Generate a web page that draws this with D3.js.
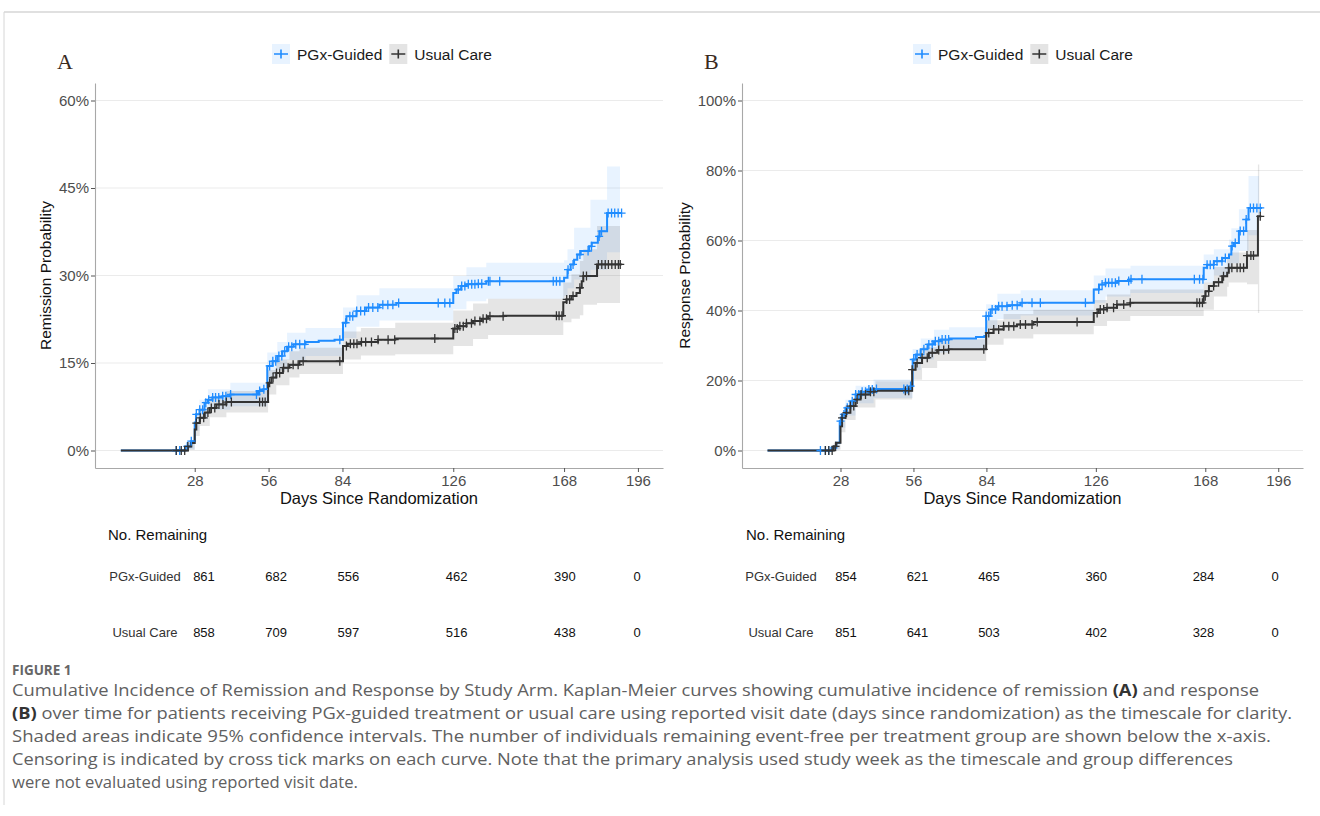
<!DOCTYPE html>
<html>
<head>
<meta charset="utf-8">
<script src="https://cdn.jsdelivr.net/npm/d3@7"></script>
<style>
  body { margin: 0; background: #fff; }
  svg { display: block; font-family: "Liberation Sans", Arial, sans-serif; }
</style>
</head>
<body>
<svg id="fig" width="1320" height="816"></svg>
<script>
// ---- data ----
const groups = ["PGx-Guided", "Usual Care"];
const dayTicks = [28, 56, 84, 126, 168, 196];
const remTicks = [0, 15, 30, 45, 60];
const respTicks = [0, 20, 40, 60, 80, 100];

// step curves: [day, cumulative incidence %], last row = end of follow-up
const remPgx = [[0,0],[24.5,0.7],[26.5,1.6],[28,4.8],[28.5,6.2],[29.8,7.0],[31.7,8.2],[33,8.7],[34.7,9.1],[38.5,9.3],[41.5,9.6],[52,10.2],[54,10.5],[55.5,14.5],[57.5,15.3],[59.3,16.2],[61.2,17.0],[63,17.8],[65.5,18.2],[70,18.6],[75,18.8],[81,19.0],[84.2,21.9],[85.5,23.0],[89.3,23.9],[93,24.5],[98,25.0],[104.5,25.3],[126,27.0],[127.2,27.6],[129,28.2],[131,28.5],[135,28.6],[138.5,29.0],[168,29.6],[169.3,31.0],[170.5,31.9],[171.8,32.7],[173,33.6],[174.3,34.2],[177.5,35.0],[178.5,35.6],[180.8,36.7],[181.5,37.6],[184.3,40.7],[189.8,40.7]];
const remUc = [[0,0],[25.4,0.7],[26.7,1.3],[28,3.6],[28.6,4.7],[29.9,5.6],[31.8,6.5],[33.7,7.3],[36.2,7.9],[40,8.3],[55.8,11.6],[57.1,12.5],[58.9,13.3],[61.4,14.2],[63.9,14.7],[67.7,15.3],[84.2,17.9],[86,18.3],[91,18.6],[97.5,19.0],[104,19.2],[126,20.9],[127.8,21.3],[131,21.8],[133.5,22.2],[136.7,22.6],[139.2,23.0],[145,23.1],[167.7,25.4],[168.9,25.9],[170.8,26.5],[172.7,27.0],[174,27.9],[174.7,29.0],[175.3,29.9],[180.5,31.9],[189.8,31.9]];
const respPgx = [[0,0],[24.5,0.8],[26.4,2.2],[27.7,8.4],[28.6,10.3],[29.9,12.2],[31.8,14.1],[33.8,16.0],[35.6,16.8],[38.2,17.4],[40.7,17.6],[54.9,18.4],[55.7,26.0],[56.9,27.4],[58.8,28.9],[61.4,30.3],[63.9,31.2],[66.5,31.7],[69.7,32.0],[80,32.4],[83.2,32.7],[83.9,38.4],[85.6,40.3],[88.2,41.2],[92,41.5],[97.1,42.2],[125.2,46.0],[127.2,47.4],[129.7,47.9],[134.2,48.4],[139.3,48.9],[167.4,52.2],[168.7,53.1],[171.3,54.1],[174.5,55.0],[177.1,56.0],[178,58.4],[179,59.3],[180.9,62.7],[183.7,66.0],[184.6,69.3],[189.8,69.3]];
const respUc = [[0,0],[25.4,1.2],[26.4,2.2],[28,6.9],[28.6,9.3],[29.9,10.8],[31.8,12.7],[33.8,14.6],[35.7,16.0],[38.9,16.8],[41.4,17.1],[55.5,23.1],[56.8,25.0],[59.3,26.5],[61.9,27.9],[65.1,28.7],[69.5,28.9],[83.9,33.6],[86.7,34.6],[90.6,35.5],[95.7,36.0],[102,36.7],[125.2,39.3],[127.1,40.3],[130.3,40.8],[134.1,41.7],[139.2,42.2],[167.4,44.1],[168.1,45.5],[169.4,47.0],[171.3,48.1],[174.5,49.8],[176.4,50.8],[177,52.2],[184,55.7],[188.2,66.9],[189.5,66.9]];

// 95% CI bands: [day, lower %, upper %]
const remPgxCI = [[0,0,0],[24.5,0.2,1.3],[28,3.4,6.3],[29.8,5.4,8.7],[33,7.0,10.5],[41.5,7.6,11.6],[55.5,12.2,16.8],[59.3,13.8,18.6],[63,15.5,20.2],[70,16.2,21.0],[84.2,19.3,24.5],[89.3,21.2,26.6],[98,22.3,27.8],[126,24.2,29.9],[131,25.6,31.4],[138.5,26.0,32.2],[168,26.5,32.6],[169.3,27.8,34.5],[171.8,29.3,38.2],[178,31.0,43.0],[184.3,34.0,48.7],[189.2,34.0,48.7]];
const remUcCI = [[0,0,0],[25.4,0.1,1.4],[28,2.5,4.9],[29.9,4.2,7.2],[33.7,5.7,9.0],[40,6.5,10.2],[55.8,9.6,13.8],[58.9,11.2,15.6],[63.9,12.5,17.0],[67.7,13.1,17.6],[84.2,15.6,20.4],[91,16.3,21.0],[104,16.5,21.9],[126,17.9,24.0],[133.5,19.1,25.2],[139.2,19.8,26.0],[167.7,22.0,28.8],[170.8,22.6,30.2],[174,23.2,32.5],[175.3,25.0,34.5],[180.5,25.3,38.5],[189.2,25.3,38.5]];
const respPgxCI = [[0,0,0],[24.5,0.1,1.6],[27.7,6.5,10.5],[29.9,10.0,14.5],[33.8,13.5,18.5],[40.7,15.0,20.3],[55.7,23.0,29.0],[58.8,26.0,32.0],[63.9,28.0,34.5],[69.7,28.8,35.2],[83.9,35.0,41.8],[88.2,37.6,44.8],[97.1,38.6,45.8],[125.2,42.2,50.0],[129.7,44.0,52.0],[139.3,45.0,52.8],[167.4,48.0,56.0],[171.3,50.0,57.5],[177.1,51.5,60.3],[178,53.5,63.5],[180.9,57.0,68.9],[184.6,61.5,78.4],[188.6,61.5,78.4]];
const respUcCI = [[0,0,0],[25.4,0.3,2.1],[28,5.2,8.8],[29.9,8.7,13.0],[33.8,12.3,17.0],[41.4,14.6,19.8],[55.5,20.2,26.2],[59.3,23.6,29.5],[65.1,25.6,31.8],[83.9,30.2,37.2],[90.6,32.0,39.0],[102,33.2,40.2],[125.2,35.6,43.0],[130.3,37.0,44.6],[139.2,38.4,46.0],[167.4,40.2,48.0],[171.3,44.0,52.4],[176.4,46.8,55.0],[177,48.0,56.6],[184,47.5,63.0],[188.2,39.3,81.7],[188.7,39.3,81.7]];

// censoring times (days)
const remPgxCens = [21,22.3,25.2,26.7,28.6,29.9,31,32.2,33.3,34.8,35.9,37.1,38.6,39.8,41.6,51.4,52.6,54.2,56.4,57.6,58.7,59.9,61,62.1,63.6,64.8,66.3,67.8,69.7,83,85.2,86.8,87.9,89.4,90.9,92.4,93.9,95.5,97.4,99.3,101.2,103.1,105.3,120.3,122.8,124.7,127.9,129.2,130.4,131.7,133,134.2,135.5,136.8,139.3,139.9,143.6,163.9,165.1,166.4,169.5,171.4,174,177.1,178.4,181.3,182.2,184.7,186,187.2,188.5,189.8];
const remUcCens = [21,22.9,24.2,25.4,28.6,30.1,31.4,33,34.3,35.6,37.2,38.7,40,41.9,52.6,53.7,54.7,56.4,57.7,59,60.2,61.7,63.4,65.3,67.2,69.1,83,85.5,87,88.3,89.5,91.2,92.8,95,97.5,101.3,103.8,119,126.6,127.5,128.5,129.8,131,132.9,134.2,136.1,137.3,138.6,139.9,144.9,165.1,166.1,167.2,169,170.1,171.4,174,175.3,176.5,181,182.3,183.6,184.8,186.1,187.4,188.6,189.3];
const respPgxCens = [20.3,22.2,23.5,28,29.3,30.6,32.5,33.8,35,36.3,37.6,38.9,40.2,41.8,52.3,53.6,54.9,56.1,57.4,58.7,60,61.9,63.2,64.4,65.7,67,68.3,69.5,83.9,84.9,86.2,87.5,88.7,90,91.9,93.9,95.8,97.7,101.5,104.7,122,127.1,128.4,129.7,130.9,132.2,133.5,134.8,138.6,139.5,143.7,163.8,165.8,167.1,168.7,169.9,171.2,172.5,174.4,175.7,178.3,179.5,181.4,182.7,183.7,185.3,186.5,187.8,189.1];
const respUcCens = [22.2,23.5,24.8,26.1,28.6,30.3,31.8,33.1,34.4,35.9,37.6,39.5,40.8,52.9,54.2,55.5,57.4,59.3,61.3,63.2,65.7,67.6,69.5,83,84.9,86.8,88.7,90.6,92.6,94.5,97,99,101.5,103.5,118.8,126.5,127.7,129,130.3,132.8,134.1,136.7,139.2,164.8,165.8,166.9,168,169.3,171.2,173.1,175,177,178.2,180.2,181.4,182.7,184,185.5,186.5,189.1];

// number remaining at each day tick
const remAtRiskPgx = [861, 682, 556, 462, 390, 0];
const remAtRiskUc = [858, 709, 597, 516, 438, 0];
const respAtRiskPgx = [854, 621, 465, 360, 284, 0];
const respAtRiskUc = [851, 641, 503, 402, 328, 0];

const colors = ["#1f8cff", "#333333"];

// ---- drawing ----
const svg = d3.select("#fig");

// frame of the figure page
svg.append("line").attr("x1", 4).attr("x2", 1320).attr("y1", 12).attr("y2", 12)
  .attr("stroke", "#d6d6d6").attr("stroke-width", 1.5);
svg.append("line").attr("x1", 4).attr("x2", 4).attr("y1", 12).attr("y2", 805)
  .attr("stroke", "#d6d6d6").attr("stroke-width", 1);

// value of a step curve at a given day
function stepAt(steps, t) {
  let v = steps[0][1];
  steps.forEach(d => { if (d[0] <= t) v = d[1]; });
  return v;
}

function drawPanel(p) {
  const g = svg.append("g");
  const x = d3.scaleLinear().domain([-9.8, 205.5]).range([p.left, p.right]);
  const y = d3.scaleLinear().domain(p.yDomain).range([468, 83]);

  // panel letter
  g.append("text").attr("x", p.letterX).attr("y", 69)
    .style("font-family", "'Liberation Serif', 'DejaVu Serif', serif")
    .style("font-size", "22px").attr("fill", "#3a2a1e").text(p.letter);

  // grid
  g.append("g").selectAll("line").data(p.yTicks).enter().append("line")
    .attr("x1", p.left).attr("x2", p.right)
    .attr("y1", d => y(d)).attr("y2", d => y(d))
    .attr("stroke", "#ebebeb").attr("stroke-width", 1.1);

  // confidence bands
  const area = d3.area().x(d => x(d[0])).y0(d => y(d[1])).y1(d => y(d[2]))
    .curve(d3.curveStepAfter);
  p.ci.forEach((band, i) => {
    g.append("path").datum(band).attr("d", area)
      .attr("fill", colors[i]).attr("fill-opacity", i === 0 ? 0.1 : 0.13);
  });

  // curves
  const line = d3.line().x(d => x(d[0])).y(d => y(d[1])).curve(d3.curveStepAfter);
  p.curves.forEach((c, i) => {
    g.append("path").datum(c).attr("d", line)
      .attr("fill", "none").attr("stroke", colors[i]).attr("stroke-width", 2);
  });

  // censoring crosses
  p.cens.forEach((times, i) => {
    g.append("g").selectAll("path").data(times).enter().append("path")
      .attr("d", t => {
        const cx = x(t), cy = y(stepAt(p.curves[i], t));
        return `M${cx - 4},${cy}H${cx + 4}M${cx},${cy - 4.5}V${cy + 4.5}`;
      })
      .attr("stroke", colors[i]).attr("stroke-width", 1.3).attr("fill", "none");
  });

  // axes
  const ya = g.append("g").attr("transform", `translate(${p.left},0)`)
    .call(d3.axisLeft(y).tickValues(p.yTicks).tickFormat(d => d + "%")
      .tickSize(4).tickSizeOuter(0).tickPadding(2));
  const xa = g.append("g").attr("transform", "translate(0,468)")
    .call(d3.axisBottom(x).tickValues(dayTicks).tickSize(4).tickSizeOuter(0).tickPadding(3));
  [ya, xa].forEach(a => {
    a.select(".domain").attr("stroke", "#a8a8a8").attr("stroke-width", 1.1);
    a.selectAll(".tick line").attr("stroke", "#555");
    a.selectAll(".tick text").attr("fill", "#4d4d4d")
      .style("font-size", "15px").style("font-family", "'Liberation Sans', Arial, sans-serif");
  });

  // axis titles
  g.append("text").attr("x", (p.left + p.right) / 2).attr("y", 504)
    .attr("text-anchor", "middle").style("font-size", "16.5px").attr("fill", "#111")
    .text("Days Since Randomization");
  g.append("text")
    .attr("transform", `translate(${p.yTitleX},${(83 + 468) / 2}) rotate(-90)`)
    .attr("text-anchor", "middle").style("font-size", "15.5px").attr("fill", "#111")
    .text(p.yTitle);

  // legend
  let lx = p.legendX;
  groups.forEach((name, i) => {
    g.append("rect").attr("x", lx).attr("y", 44).attr("width", 18).attr("height", 20)
      .attr("fill", i === 0 ? "#e8f3ff" : "#e4e4e4");
    g.append("path")
      .attr("d", `M${lx + 2},54H${lx + 16}M${lx + 9},49.5V58.5`)
      .attr("stroke", colors[i]).attr("stroke-width", 1.6);
    const t = g.append("text").attr("x", lx + 25).attr("y", 59.5)
      .style("font-size", "15.5px").attr("fill", "#1a1a1a").text(name);
    lx += 25 + t.node().getComputedTextLength() + 7;
  });

  // number remaining table
  const tx = d3.scaleLinear().domain([28, 196]).range(p.tableRange);
  g.append("text").attr("x", p.tableTitleX).attr("y", 539.5)
    .style("font-size", "15px").attr("fill", "#111").text("No. Remaining");
  const rowsY = [581, 637];
  p.atRisk.forEach((vals, i) => {
    g.append("text").attr("x", p.tableLabelX).attr("y", rowsY[i])
      .attr("text-anchor", "middle").style("font-size", "13px").attr("fill", "#333")
      .text(groups[i]);
    g.append("g").selectAll("text").data(vals).enter().append("text")
      .attr("x", (d, j) => tx(dayTicks[j])).attr("y", rowsY[i])
      .attr("text-anchor", "middle").style("font-size", "13px").attr("fill", "#111")
      .text(d => d);
  });
}

drawPanel({
  letter: "A", letterX: 57, left: 95, right: 663,
  yDomain: [-3, 63], yTicks: remTicks, yTitle: "Remission Probability", yTitleX: 50.5,
  legendX: 272, curves: [remPgx, remUc], ci: [remPgxCI, remUcCI], cens: [remPgxCens, remUcCens],
  atRisk: [remAtRiskPgx, remAtRiskUc], tableRange: [204, 637], tableTitleX: 108, tableLabelX: 145
});
drawPanel({
  letter: "B", letterX: 704, left: 742, right: 1303,
  yDomain: [-5, 105], yTicks: respTicks, yTitle: "Response Probability", yTitleX: 689.5,
  legendX: 913, curves: [respPgx, respUc], ci: [respPgxCI, respUcCI], cens: [respPgxCens, respUcCens],
  atRisk: [respAtRiskPgx, respAtRiskUc], tableRange: [846, 1275], tableTitleX: 746, tableLabelX: 781
});

// caption
const capFont = "'Open Sans', 'Noto Sans', sans-serif";
svg.append("text").attr("x", 12).attr("y", 675)
  .style("font-family", capFont).style("font-size", "13.5px").style("font-weight", "bold")
  .attr("fill", "#666").text("FIGURE 1");

const captionLines = [
  [["Cumulative Incidence of Remission and Response by Study Arm. Kaplan-Meier curves showing cumulative incidence of remission ", false], ["(A)", true], [" and response", false]],
  [["(B)", true], [" over time for patients receiving PGx-guided treatment or usual care using reported visit date (days since randomization) as the timescale for clarity.", false]],
  [["Shaded areas indicate 95% confidence intervals. The number of individuals remaining event-free per treatment group are shown below the x-axis.", false]],
  [["Censoring is indicated by cross tick marks on each curve. Note that the primary analysis used study week as the timescale and group differences", false]],
  [["were not evaluated using reported visit date.", false]]
];
const captionEnds = [1259, 1292, 1271, 1233, 358];

captionLines.forEach((segs, i) => {
  const t = svg.append("text").attr("x", 12).attr("y", 696 + i * 23)
    .style("font-family", capFont).style("font-size", "15.5px").attr("fill", "#606060")
    .attr("textLength", captionEnds[i] - 12).attr("lengthAdjust", "spacingAndGlyphs");
  segs.forEach(s => {
    t.append("tspan").text(s[0])
      .style("font-weight", s[1] ? "bold" : "normal")
      .attr("fill", s[1] ? "#333" : "#606060");
  });
});
</script>
</body>
</html>
